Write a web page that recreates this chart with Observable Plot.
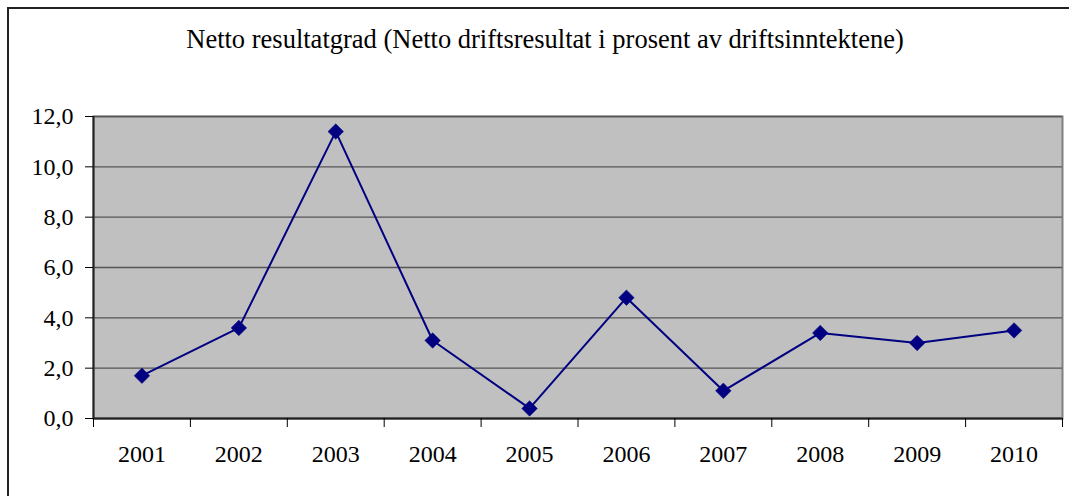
<!DOCTYPE html>
<html>
<head>
<meta charset="utf-8">
<script src="https://cdn.jsdelivr.net/npm/d3@7"></script>
<script src="https://cdn.jsdelivr.net/npm/@observablehq/plot@0.6"></script>
<style>
  html, body { margin: 0; padding: 0; background: #ffffff; }
  #wrap { position: relative; width: 1069px; height: 496px; overflow: hidden; background: #fff; }
  #frame { position: absolute; left: 7px; top: 7px; width: 1100px; height: 600px; border-left: 2px solid #222; border-top: 2px solid #222; }
  #title { position: absolute; left: 0; width: 1090px; top: 24px; text-align: center; font-family: "Liberation Serif", serif; font-size: 26.5px; line-height: 30px; color: #000; white-space: nowrap; }
  #chart { position: absolute; left: 0; top: 0; }
  #chart svg, #chart svg text { font-family: "Liberation Serif", serif !important; }
</style>
</head>
<body>
<div id="wrap">
  <div id="frame"></div>
  <div id="title">Netto resultatgrad (Netto driftsresultat i prosent av driftsinntektene)</div>
  <div id="chart"></div>
</div>
<script>
const years = [2001, 2002, 2003, 2004, 2005, 2006, 2007, 2008, 2009, 2010];
const values = [1.7, 3.6, 11.4, 3.1, 0.4, 4.8, 1.1, 3.4, 3.0, 3.5];
const yTicks = [0, 2, 4, 6, 8, 10, 12];

const data = years.map((y, i) => ({year: y, value: values[i]}));
const boundaries = [...years.map(y => y - 0.5), years[years.length - 1] + 0.5];

const chart = Plot.plot({
  width: 1069,
  height: 496,
  marginLeft: 93,
  marginRight: 7,
  marginTop: 116,
  marginBottom: 78,
  style: {fontFamily: "'Liberation Serif', serif", fontSize: "24px", color: "#000", background: "transparent"},
  x: {type: "linear", domain: [boundaries[0], boundaries[boundaries.length - 1]]},
  y: {domain: [0, 12]},
  marks: [
    Plot.frame({fill: "#C0C0C0", stroke: "#808080", strokeWidth: 2}),
    Plot.gridY(yTicks, {stroke: "#555", strokeOpacity: 1, strokeWidth: 1.3}),
    Plot.ruleX([boundaries[0]], {stroke: "#222", strokeWidth: 2}),
    Plot.ruleY([0], {stroke: "#222", strokeWidth: 2}),
    Plot.axisY(yTicks, {tickSize: 8, tickPadding: 12, tickFormat: d => d.toFixed(1).replace(".", ","), label: null, stroke: "#000", fontSize: 24, fontFamily: "Liberation Serif"}),
    Plot.axisX(boundaries, {tickSize: 9, tickFormat: () => "", label: null, stroke: "#000"}),
    Plot.axisX(years, {tickSize: 0, tickPadding: 26, tickFormat: d => String(d), label: null, fontSize: 24, fontFamily: "Liberation Serif"}),
    Plot.line(data, {x: "year", y: "value", stroke: "#000080", strokeWidth: 2}),
    Plot.dot(data, {x: "year", y: "value", symbol: "diamond2", r: 7, fill: "#000080", stroke: "#000080", strokeWidth: 0.5})
  ]
});
document.getElementById("chart").appendChild(chart);
</script>
</body>
</html>
